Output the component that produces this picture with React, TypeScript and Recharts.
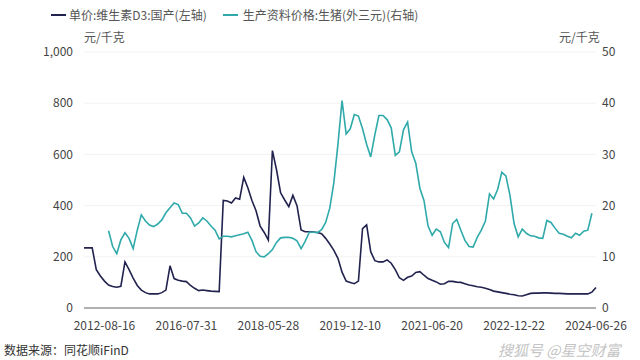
import { LineChart, Line, XAxis, YAxis, CartesianGrid } from "recharts";

// 单价:维生素D3:国产 (元/千克, 左轴)
const d3Price = [
  235, 235, 235, 150, 125, 105, 90, 84, 81, 85,
  180, 150, 117, 88, 70, 60, 55, 55, 55, 60,
  70, 165, 115, 108, 105, 103, 88, 77, 68, 70,
  68, 66, 65, 64, 420, 418, 410, 430, 425, 510,
  470, 420, 380, 320, 295, 265, 615, 540, 450, 422,
  396, 440, 400, 305, 298, 298, 297, 295, 290, 272,
  250, 225, 194, 140, 105, 100, 95, 105, 310, 325,
  220, 185, 180, 180, 188, 175, 150, 118, 108, 120,
  125, 139, 142, 128, 115, 108, 102, 93, 95, 104,
  104, 101, 100, 95, 90, 87, 83, 81, 77, 72,
  66, 63, 60, 57, 54, 52, 48, 47, 52, 57,
  58, 58, 59, 59, 58, 57, 57, 56, 55, 55,
  55, 55, 55, 55, 62, 80,
];

// 生产资料价格:生猪(外三元) (元/千克, 右轴)
const pigPrice = [
  null, null, null, null, null, null, 15.1, 12.0, 10.6, 13.3,
  14.7, 13.6, 11.6, 15.2, 18.2, 17.0, 16.2, 15.9, 16.4, 17.2,
  18.6, 19.6, 20.5, 20.2, 18.5, 18.5, 17.6, 16.0, 16.6, 17.6,
  17.0, 16.0, 15.2, 13.5, 14.0, 14.0, 13.9, 14.1, 14.3, 14.5,
  14.8, 13.2, 11.0, 10.1, 10.0, 10.6, 11.4, 12.8, 13.7, 13.8,
  13.8, 13.6, 13.1, 11.6, 13.0, 14.8, 14.8, 14.7, 15.3, 16.7,
  19.5, 24.5, 32.0, 40.5, 34.0, 35.0, 37.8, 37.5, 35.0, 32.0,
  29.5, 33.8, 37.6, 37.6, 36.8, 35.2, 29.8, 30.5, 34.8, 36.3,
  30.5, 28.3, 23.4, 21.0, 16.0, 14.2, 15.4, 14.9, 12.8, 11.8,
  16.5, 17.3, 15.2, 13.2, 12.0, 11.9, 13.8, 15.2, 17.0, 22.3,
  21.3, 23.2, 26.5, 25.8, 22.0, 16.5, 13.9, 15.4, 14.6, 14.1,
  14.0, 13.7, 13.6, 17.1, 16.7, 15.6, 14.6, 14.4, 14.0, 13.7,
  14.6, 14.2, 15.0, 15.2, 18.5, null,
];

const dateLabels = [
  "2012-08-16", "2016-07-31", "2018-05-28", "2019-12-10",
  "2021-06-20", "2022-12-22", "2024-06-26",
];
const dateTickIdx = [5, 25, 45, 65, 85, 105, 125];

const leftTicks = [0, 200, 400, 600, 800, 1000];
const rightTicks = [0, 10, 20, 30, 40, 50];

const NAVY = "#22224f";
const TEAL = "#2fa9aa";

const data = d3Price.map((v, i) => ({ i, d3: v, pig: pigPrice[i] }));

const fmtDate = (v: number) => dateLabels[dateTickIdx.indexOf(v)] ?? "";

export default function App() {
  const text = { position: "absolute" as const, fontSize: 12, color: "#555", whiteSpace: "nowrap" as const };
  return (
    <div
      style={{
        position: "absolute",
        left: 0,
        top: 0,
        width: 640,
        height: 360,
        background: "#fff",
        fontFamily: "'Noto Sans CJK SC', 'Noto Sans', sans-serif",
      }}
    >
      <div style={{ ...text, left: 51, top: 6, display: "flex", alignItems: "center" }}>
        <span style={{ width: 15, height: 2, background: NAVY, marginRight: 3 }} />
        <span>单价:维生素D3:国产(左轴)</span>
        <span style={{ width: 15, height: 2, background: TEAL, marginLeft: 16, marginRight: 5 }} />
        <span>生产资料价格:生猪(外三元)(右轴)</span>
      </div>
      <div style={{ ...text, left: 84, top: 28 }}>元/千克</div>
      <div style={{ ...text, left: 559, top: 28 }}>元/千克</div>

      <LineChart
        width={640}
        height={360}
        data={data}
        margin={{ top: 52, right: 0, left: 0, bottom: 0 }}
      >
        <CartesianGrid yAxisId="left" vertical={false} stroke="#f2f2f2" />
        <XAxis
          dataKey="i"
          type="number"
          domain={[0, 125]}
          ticks={dateTickIdx}
          interval={0}
          tickFormatter={fmtDate}
          height={52}
          tick={{ fontSize: 12, fill: "#444" }}
          tickLine={false}
          tickMargin={7}
          axisLine={{ stroke: "#999", strokeWidth: 1.5 }}
        />
        <YAxis
          yAxisId="left"
          domain={[0, 1000]}
          ticks={leftTicks}
          interval={0}
          width={84}
          tick={{ fontSize: 12, fill: "#444" }}
          tickFormatter={(v: number) => v.toLocaleString("en-US")}
          tickLine={false}
          axisLine={false}
          tickMargin={5}
        />
        <YAxis
          yAxisId="right"
          orientation="right"
          domain={[0, 50]}
          ticks={rightTicks}
          interval={0}
          width={44}
          tick={{ fontSize: 12, fill: "#444" }}
          tickLine={false}
          axisLine={false}
          tickMargin={0}
        />
        <Line
          yAxisId="left"
          dataKey="d3"
          type="linear"
          stroke={NAVY}
          strokeWidth={1.6}
          dot={false}
          isAnimationActive={false}
        />
        <Line
          yAxisId="right"
          dataKey="pig"
          type="linear"
          stroke={TEAL}
          strokeWidth={1.6}
          dot={false}
          connectNulls={false}
          isAnimationActive={false}
        />
      </LineChart>

      <div style={{ ...text, left: 4, top: 341, color: "#333" }}>数据来源：同花顺iFinD</div>
      <div style={{ ...text, left: 498, top: 339, fontSize: 15, color: "#c4c4c4", fontStyle: "italic" }}>
        搜狐号 @星空财富
      </div>
    </div>
  );
}
